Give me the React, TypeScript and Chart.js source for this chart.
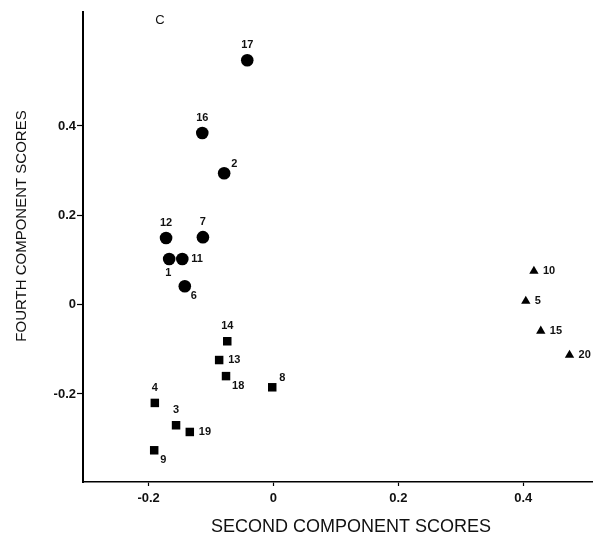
import { useEffect, useRef } from "react";
import { Chart, registerables } from "chart.js";

Chart.register(...registerables);

// Group 1 (circles)
const circleIds = ["17", "16", "2", "12", "7", "1", "11", "6"];
const circleX = [-0.042, -0.114, -0.079, -0.172, -0.113, -0.167, -0.146, -0.142];
const circleY = [0.547, 0.384, 0.294, 0.149, 0.151, 0.102, 0.102, 0.041];
const circleLabelPos = ["n", "n", "ne", "n", "n", "s", "e", "se"];

// Group 2 (squares)
const squareIds = ["14", "13", "18", "8", "4", "3", "19", "9"];
const squareX = [-0.074, -0.087, -0.076, -0.002, -0.19, -0.156, -0.134, -0.191];
const squareY = [-0.082, -0.124, -0.16, -0.185, -0.22, -0.27, -0.285, -0.326];
const squareLabelPos = ["n", "e", "se", "ne", "n", "n", "e", "se"];

// Group 3 (triangles)
const triangleIds = ["10", "5", "15", "20"];
const triangleX = [0.417, 0.404, 0.428, 0.474];
const triangleY = [0.075, 0.008, -0.059, -0.113];
const triangleLabelPos = ["e", "e", "e", "e"];

const tickValues = [-0.2, 0, 0.2, 0.4];
const xTitle = "SECOND COMPONENT SCORES";
const yTitle = "FOURTH COMPONENT SCORES";
const panelLetter = "C";

const FONT = "'Liberation Sans', Arial, Helvetica, sans-serif";

const fmt = (v: number) => {
  if (Math.abs(v) < 1e-9) return "0";
  return (v < 0 ? "-" : "") + Math.abs(v).toFixed(1);
};

const labelPlugin = {
  id: "pointLabels",
  afterDatasetsDraw(chart: any) {
    const ctx = chart.ctx;
    ctx.save();
    ctx.fillStyle = "#111";
    ctx.font = `bold 11px ${FONT}`;
    ctx.textBaseline = "middle";
    chart.data.datasets.forEach((ds: any, di: number) => {
      const meta = chart.getDatasetMeta(di);
      meta.data.forEach((el: any, i: number) => {
        const text = ds.ids[i];
        const pos = ds.labelPos[i];
        let dx = 0, dy = 0, align: CanvasTextAlign = "center";
        if (pos === "n") { dx = 0; dy = -15; }
        else if (pos === "s") { dx = -1; dy = 14; }
        else if (pos === "e") { dx = 9; dy = 0; align = "left"; }
        else if (pos === "ne") { dx = 7; dy = -9; align = "left"; }
        else if (pos === "se") { dx = 6; dy = 10; align = "left"; }
        ctx.textAlign = align;
        ctx.fillText(text, el.x + dx, el.y + dy);
      });
    });
    ctx.restore();
  },
};

const titlePlugin = {
  id: "axisTitles",
  afterDraw(chart: any) {
    const ctx = chart.ctx;
    ctx.save();
    ctx.fillStyle = "#111";
    ctx.textAlign = "center";
    ctx.textBaseline = "middle";
    ctx.font = `18px ${FONT}`;
    ctx.fillText(xTitle, 351, 527);
    ctx.font = `13px ${FONT}`;
    ctx.fillText(panelLetter, 160, 20);
    ctx.translate(22, 226);
    ctx.rotate(-Math.PI / 2);
    ctx.font = `15px ${FONT}`;
    ctx.fillText(yTitle, 0, 0);
    ctx.restore();
  },
};

export default function App() {
  const ref = useRef<HTMLCanvasElement | null>(null);
  useEffect(() => {
    if (!ref.current) return;
    const mk = (xs: number[], ys: number[]) => xs.map((x, i) => ({ x, y: ys[i] }));
    const chart = new Chart(ref.current, {
      type: "scatter",
      data: {
        datasets: [
          {
            data: mk(circleX, circleY),
            ids: circleIds,
            labelPos: circleLabelPos,
            pointStyle: "circle",
            pointRadius: 6.3,
            backgroundColor: "#000",
            borderColor: "#000",
            borderWidth: 0,
          } as any,
          {
            data: mk(squareX, squareY),
            ids: squareIds,
            labelPos: squareLabelPos,
            pointStyle: "rect",
            pointRadius: 6,
            backgroundColor: "#000",
            borderColor: "#000",
            borderWidth: 0,
          } as any,
          {
            data: mk(triangleX, triangleY),
            ids: triangleIds,
            labelPos: triangleLabelPos,
            pointStyle: "triangle",
            pointRadius: 5.4,
            backgroundColor: "#000",
            borderColor: "#000",
            borderWidth: 0,
          } as any,
        ],
      },
      options: {
        responsive: false,
        animation: false,
        events: [],
        layout: { padding: { left: 0, top: 12, right: 23, bottom: 0 } },
        plugins: { legend: { display: false }, tooltip: { enabled: false } },
        scales: {
          x: {
            type: "linear",
            min: -0.305,
            max: 0.51,
            afterBuildTicks: (s: any) => { s.ticks = tickValues.map((v) => ({ value: v })); },
            afterFit: (s: any) => { s.height = 58; },
            grid: { drawOnChartArea: false, drawTicks: true, tickLength: 4, tickColor: "#000", tickWidth: 1.2 },
            border: { display: true, color: "#000", width: 1.6 },
            ticks: {
              color: "#111",
              font: { family: FONT, size: 13, weight: "bold" },
              padding: 5,
              maxRotation: 0,
              callback: (v: any) => fmt(Number(v)),
            },
          },
          y: {
            type: "linear",
            min: -0.397,
            max: 0.655,
            afterBuildTicks: (s: any) => { s.ticks = tickValues.map((v) => ({ value: v })); },
            afterFit: (s: any) => { s.width = 83; },
            grid: { drawOnChartArea: false, drawTicks: true, tickLength: 6, tickColor: "#000", tickWidth: 1.2 },
            border: { display: true, color: "#000", width: 2 },
            ticks: {
              color: "#111",
              font: { family: FONT, size: 13, weight: "bold" },
              padding: 1,
              callback: (v: any) => fmt(Number(v)),
            },
          },
        },
      } as any,
      plugins: [labelPlugin, titlePlugin],
    });
    return () => chart.destroy();
  }, []);
  return (
    <div style={{ position: "absolute", left: 0, top: 0, width: 615, height: 540, background: "#fff" }}>
      <canvas ref={ref} width={615} height={540} style={{ display: "block" }} />
    </div>
  );
}
